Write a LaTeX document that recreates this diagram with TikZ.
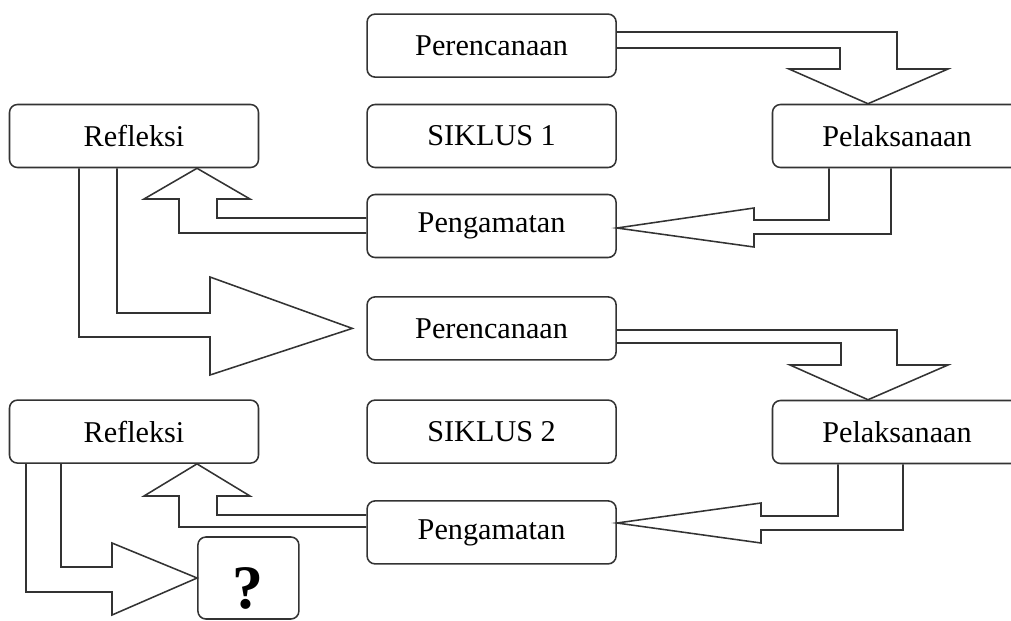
\documentclass[tikz,border=0pt]{standalone}
\usepackage{fontspec}
\setmainfont{Liberation Serif}
\usepackage{tikz}

\begin{document}
\begin{tikzpicture}[
    tahap/.style={draw=black!80, line width=1.1pt, rounded corners=0.2cm,
        minimum width=6.225cm, minimum height=1.575cm, inner sep=0pt,
        font=\fontsize{21.5}{26}\selectfont},
    panah/.style={draw=black!80, line width=1.1pt, line join=miter}
]
    \useasboundingbox (0,0) rectangle (25.275,-15.525);

    % Siklus 1
    \node[tahap] (per1) at (12.29,-1.14) {Perencanaan};
    \node[tahap] (ref1) at (3.35,-3.4) {Refleksi};
    \node[tahap] (sik1) at (12.29,-3.4) {SIKLUS 1};
    \node[tahap] (pel1) at (22.425,-3.4) {Pelaksanaan};
    \node[tahap] (pen1) at (12.29,-5.65) {Pengamatan};

    % Siklus 2
    \node[tahap] (per2) at (12.29,-8.21) {Perencanaan};
    \node[tahap] (ref2) at (3.35,-10.79) {Refleksi};
    \node[tahap] (sik2) at (12.29,-10.79) {SIKLUS 2};
    \node[tahap] (pel2) at (22.425,-10.8) {Pelaksanaan};
    \node[tahap] (pen2) at (12.29,-13.31) {Pengamatan};
    \node[tahap, minimum width=2.525cm, minimum height=2.05cm,
        text height=1.5cm, text depth=0pt,
        font=\fontsize{44}{48}\selectfont\bfseries] (tanya) at (6.21,-14.45) {?};

    % Panah siklus 1
    \draw[panah] (per1.east |- 0,-0.8) -- (22.425,-0.8) -- (22.425,-1.725) -- (23.7,-1.725)
        -- (pel1.north -| 21.7,0) -- (19.725,-1.725) -- (21.0,-1.725) -- (21.0,-1.2)
        -- (per1.east |- 0,-1.2);
    \draw[panah] (pel1.south -| 20.725,0) -- (20.725,-5.5) -- (18.85,-5.5) -- (18.85,-5.2)
        -- (pen1.east |- 0,-5.7) -- (18.85,-6.175) -- (18.85,-5.85) -- (22.275,-5.85)
        -- (pel1.south -| 22.275,0);
    \draw[panah] (pen1.west |- 0,-5.45) -- (5.425,-5.45) -- (5.425,-4.975) -- (6.25,-4.975)
        -- (ref1.south -| 4.925,0) -- (3.6,-4.975) -- (4.475,-4.975) -- (4.475,-5.825)
        -- (pen1.west |- 0,-5.825);
    \draw[panah] (ref1.south -| 2.925,0) -- (2.925,-7.825) -- (5.25,-7.825) -- (5.25,-6.925)
        -- ([xshift=-0.35cm]per2.west) -- (5.25,-9.375) -- (5.25,-8.425) -- (1.975,-8.425)
        -- (ref1.south -| 1.975,0);

    % Panah siklus 2
    \draw[panah] (per2.east |- 0,-8.25) -- (22.425,-8.25) -- (22.425,-9.125) -- (23.7,-9.125)
        -- (pel2.north -| 21.7,0) -- (19.75,-9.125) -- (21.025,-9.125) -- (21.025,-8.575)
        -- (per2.east |- 0,-8.575);
    \draw[panah] (pel2.south -| 20.95,0) -- (20.95,-12.9) -- (19.025,-12.9) -- (19.025,-12.575)
        -- (pen2.east |- 0,-13.075) -- (19.025,-13.575) -- (19.025,-13.25) -- (22.575,-13.25)
        -- (pel2.south -| 22.575,0);
    \draw[panah] (pen2.west |- 0,-12.875) -- (5.425,-12.875) -- (5.425,-12.4) -- (6.25,-12.4)
        -- (ref2.south -| 4.925,0) -- (3.6,-12.4) -- (4.475,-12.4) -- (4.475,-13.175)
        -- (pen2.west |- 0,-13.175);
    \draw[panah] (ref2.south -| 1.525,0) -- (1.525,-14.175) -- (2.8,-14.175) -- (2.8,-13.575)
        -- (tanya.west) -- (2.8,-15.375) -- (2.8,-14.8) -- (0.65,-14.8)
        -- (ref2.south -| 0.65,0);
\end{tikzpicture}
\end{document}
